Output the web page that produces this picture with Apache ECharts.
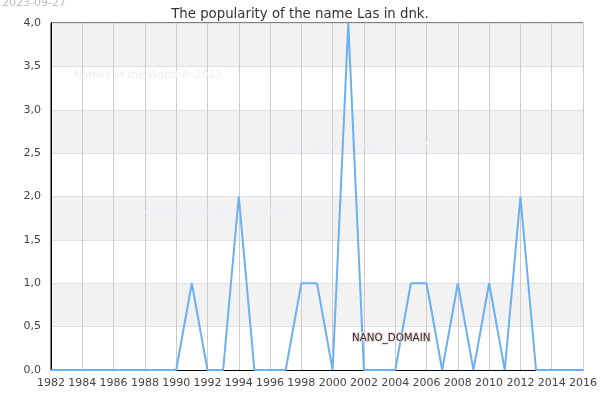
<!DOCTYPE html>
<html>
<head>
<meta charset="utf-8">
<script src="https://cdn.jsdelivr.net/npm/echarts@6/dist/echarts.min.js"></script>
<style>
  html, body { margin: 0; padding: 0; background: #fff; }
  #chart { width: 600px; height: 400px; }
</style>
</head>
<body>
<div id="chart"></div>
<script>
// 数据
var years = [1982, 1983, 1984, 1985, 1986, 1987, 1988, 1989, 1990, 1991,
  1992, 1993, 1994, 1995, 1996, 1997, 1998, 1999, 2000, 2001,
  2002, 2003, 2004, 2005, 2006, 2007, 2008, 2009, 2010, 2011,
  2012, 2013, 2014, 2015, 2016];
var counts = [0, 0, 0, 0, 0, 0, 0, 0, 0, 1,
  0, 0, 2, 0, 0, 0, 1, 1, 0, 4,
  0, 0, 0, 1, 1, 0, 1, 0, 1, 0,
  2, 0, 0, 0, 0];
var titleText = 'The popularity of the name Las in dnk.';
var dateText = '2023-09-27';
var watermark = 'Names of the World © 2023';

var points = years.map(function(y, i) { return [y, counts[i]]; });

var myChart = echarts.init(document.getElementById('chart'));
var font = 'DejaVu Sans';

var option = {
  backgroundColor: '#fff',
  animation: false,
  title: {
    text: titleText,
    left: 'center',
    top: 3,
    textStyle: { fontFamily: font, fontSize: 13.3, fontWeight: 'normal', color: '#333' }
  },
  grid: {
    left: 51, right: 14, top: 23, bottom: 30,
    show: true, borderColor: '#000', borderWidth: 1
  },
  xAxis: {
    type: 'value',
    min: 1982, max: 2016, interval: 2,
    axisLine: { show: true, lineStyle: { color: '#000', width: 1 } },
    axisTick: { show: false },
    axisLabel: { fontFamily: font, fontSize: 11, color: '#444', margin: 8,
      formatter: function(v) { return String(v); } },
    splitLine: { show: true, lineStyle: { color: '#cccccc', width: 1 } }
  },
  yAxis: {
    type: 'value',
    min: 0, max: 4, interval: 0.5,
    axisLine: { show: true, lineStyle: { color: '#000', width: 1 } },
    axisTick: { show: false },
    axisLabel: { fontFamily: font, fontSize: 11, color: '#444', margin: 10,
      formatter: function(v) { return v.toFixed(1).replace('.', ','); } },
    splitLine: { show: true, lineStyle: { color: '#e0e0e0', width: 1 } },
    splitArea: { show: true, areaStyle: { color: ['#ffffff', '#f2f2f2'] } }
  },
  series: [{
    type: 'line',
    data: points,
    showSymbol: false,
    lineStyle: { color: '#6cb0f2', width: 2 },
    z: 3
  }],
  graphic: [
    { type: 'text', left: 2, top: -2, z: 10,
      style: { text: dateText, fontFamily: font, fontSize: 11, fill: '#c0c0c0' } },
    { type: 'text', left: 74, top: 70, z: 1,
      style: { text: watermark, fontFamily: font, fontSize: 10.5, fill: '#ececf8' } },
    { type: 'text', left: 287, top: 141, z: 1,
      style: { text: watermark, fontFamily: font, fontSize: 10.5, fill: '#ececf8' } },
    { type: 'text', left: 141, top: 207, z: 1,
      style: { text: watermark, fontFamily: font, fontSize: 10.5, fill: '#ececf8' } },
    { type: 'text', left: 351, top: 332, z: 10,
      style: { text: 'NANO_DOMAIN', fontFamily: font, fontSize: 10.3, fill: '#3a2828',
        stroke: '#e8dede', lineWidth: 2 } }
  ]
};

myChart.setOption(option);
</script>
</body>
</html>
